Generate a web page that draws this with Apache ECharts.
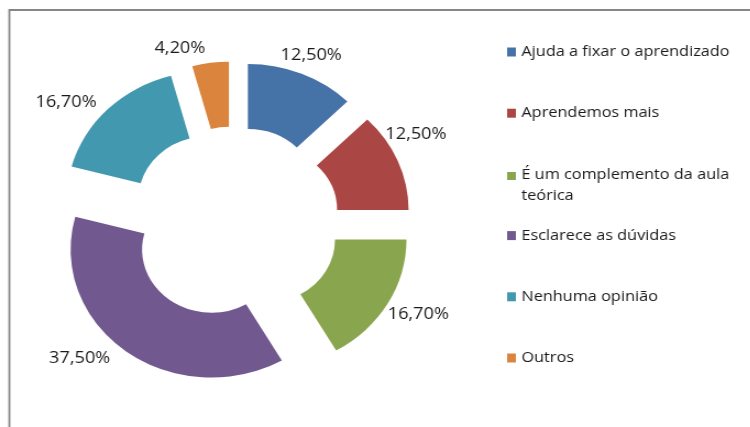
<!DOCTYPE html>
<html>
<head>
<meta charset="utf-8">
<script src="https://cdn.jsdelivr.net/npm/echarts@6/dist/echarts.min.js"></script>
<style>
html, body { margin: 0; padding: 0; background: #fff; overflow: hidden; }
/* the source image is a screenshot stretched ~10% horizontally */
#main { width: 682px; height: 427px; transform: scaleX(1.1); transform-origin: 0 0; }
</style>
</head>
<body>
<div id="main"></div>
<script>
// categorias e percentuais
var categories = [
  "Ajuda a fixar o aprendizado",
  "Aprendemos mais",
  "É um complemento da aula teórica",
  "Esclarece as dúvidas",
  "Nenhuma opinião",
  "Outros"
];
var percents = [12.5, 12.5, 16.7, 37.5, 16.7, 4.2];
var colors = ["#4572A7", "#AA4643", "#89A54E", "#71588F", "#4198AF", "#DB843D"];

var font = "Open Sans";

// rótulos foram arrastados à mão no Excel: pequeno ajuste em relação à posição da lib
var labelShift = [[-4, 0], [-7, -19], [5.5, 1], [3, -9], [9, 7], [3, 5]];

// uma legenda por item, para manter o espaçamento do Excel
var legends = [];
categories.forEach(function (name, i) {
  var twoLines = name.length > 28;
  legends.push({
    data: [name],
    orient: "vertical",
    left: 461,
    top: 52 + i * 61.2 - 10.5,
    padding: 0,
    itemWidth: 8,
    itemHeight: twoLines ? 30 : 9,
    // item de duas linhas: quadrado alinhado com a primeira linha
    icon: twoLines ? "path://M0,0h9v9h-9z M0,29h0.01v0.01h-0.01z" : "rect",
    selectedMode: false,
    textStyle: {
      fontFamily: font,
      fontSize: 14.8,
      color: "#1a1a1a",
      lineHeight: 21,
      width: 210,
      overflow: "break"
    }
  });
});

var option = {
  animation: false,
  color: colors,
  graphic: [
    {
      type: "rect",
      silent: true,
      shape: { x: 8.5, y: 10, width: 800, height: 500 },
      style: { fill: "none", stroke: "#868686", lineWidth: 1.8 }
    }
  ],
  legend: legends,
  series: [
    {
      type: "pie",
      center: [212.5, 223],
      radius: [63, 128],
      selectedMode: "multiple",
      selectedOffset: 33.5,
      avoidLabelOverlap: false,
      emphasis: { disabled: true },
      label: {
        show: true,
        position: "outside",
        fontFamily: font,
        fontSize: 16.5,
        color: "#1a1a1a",
        formatter: function (p) {
          return p.value.toFixed(2).replace(".", ",") + "%";
        }
      },
      labelLine: { show: false, length: 20, length2: 0 },
      labelLayout: function (p) {
        var s = labelShift[p.dataIndex];
        // lado direito: centrado na ponta da guia
        var dx = p.align === "left" ? -p.labelRect.width / 2 : 0;
        return { dx: dx + s[0], dy: s[1] };
      },
      data: categories.map(function (name, i) {
        return { name: name, value: percents[i], selected: true };
      })
    }
  ]
};

var chart = echarts.init(document.getElementById("main"));
chart.setOption(option);
</script>
</body>
</html>
